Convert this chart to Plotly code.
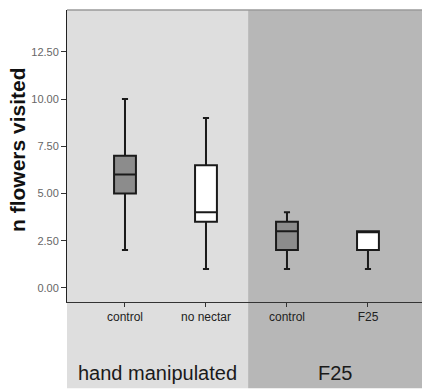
import plotly.graph_objects as go

categories = ["control", "no nectar", "control", "F25"]
positions = [0, 1, 2, 3]
q1 = [5.0, 3.5, 2.0, 2.0]
median = [6.0, 4.0, 3.0, 3.0]
q3 = [7.0, 6.5, 3.5, 3.0]
lower = [2.0, 1.0, 1.0, 1.0]
upper = [10.0, 9.0, 4.0, 3.0]
fills = ["#8c8c8c", "#ffffff", "#8c8c8c", "#ffffff"]
groups = ["hand manipulated", "F25"]
y_ticks = [0, 2.5, 5, 7.5, 10, 12.5]

fig = go.Figure()
for i in range(len(categories)):
    fig.add_trace(go.Box(
        x=[positions[i]], q1=[q1[i]], median=[median[i]], q3=[q3[i]],
        lowerfence=[lower[i]], upperfence=[upper[i]],
        width=0.27, whiskerwidth=0.28,
        fillcolor=fills[i], line=dict(color="#1a1a1a", width=2),
        showlegend=False, hoverinfo="skip",
    ))

XL, XM, XR = -0.716, 1.52, 3.667
fig.add_shape(type="rect", xref="x", yref="paper", x0=XL, x1=XM, y0=-0.295, y1=1,
              fillcolor="#dedede", line=dict(width=0), layer="below")
fig.add_shape(type="rect", xref="x", yref="paper", x0=XM, x1=XR, y0=-0.295, y1=1,
              fillcolor="#b7b7b7", line=dict(width=0), layer="below")
fig.add_shape(type="line", xref="paper", yref="paper", x0=0, x1=1, y0=1, y1=1,
              line=dict(color="#9a9a9a", width=1.5))

fig.add_annotation(x=(XL + XM) / 2, y=-0.288, xref="x", yref="paper", text=groups[0],
                   showarrow=False, font=dict(size=20, color="#1a1a1a", family="Liberation Sans, Arial"))
fig.add_annotation(x=(XM + XR) / 2, y=-0.288, xref="x", yref="paper", text=groups[1],
                   showarrow=False, font=dict(size=20, color="#1a1a1a", family="Liberation Sans, Arial"))
fig.add_annotation(x=(17 - 67) / 355, y=(302 - 150) / 292, xref="paper", yref="paper",
                   text="<b>n flowers visited</b>", xanchor="center", yanchor="middle",
                   textangle=-90, showarrow=False,
                   font=dict(size=21, color="#111", family="Liberation Sans, Arial"))

fig.update_layout(
    width=422, height=391,
    margin=dict(l=67, r=0, t=10, b=89),
    paper_bgcolor="white", plot_bgcolor="rgba(0,0,0,0)",
    font=dict(family="Liberation Sans, Arial"),
    xaxis=dict(range=[XL, XR], tickvals=positions, ticktext=categories,
               showgrid=False, zeroline=False, showline=True, linecolor="#333", linewidth=1,
               ticks="outside", ticklen=4, tickcolor="#333",
               tickfont=dict(size=12, color="#222")),
    yaxis=dict(range=[-0.75, 14.72], tickvals=y_ticks,
               ticktext=["%.2f" % v for v in y_ticks],
               showgrid=False, zeroline=False, showline=True, linecolor="#222", linewidth=1,
               ticks="outside", ticklen=5, tickcolor="#333",
               tickfont=dict(size=11, color="#666")),
)

fig.write_html("out.html")
